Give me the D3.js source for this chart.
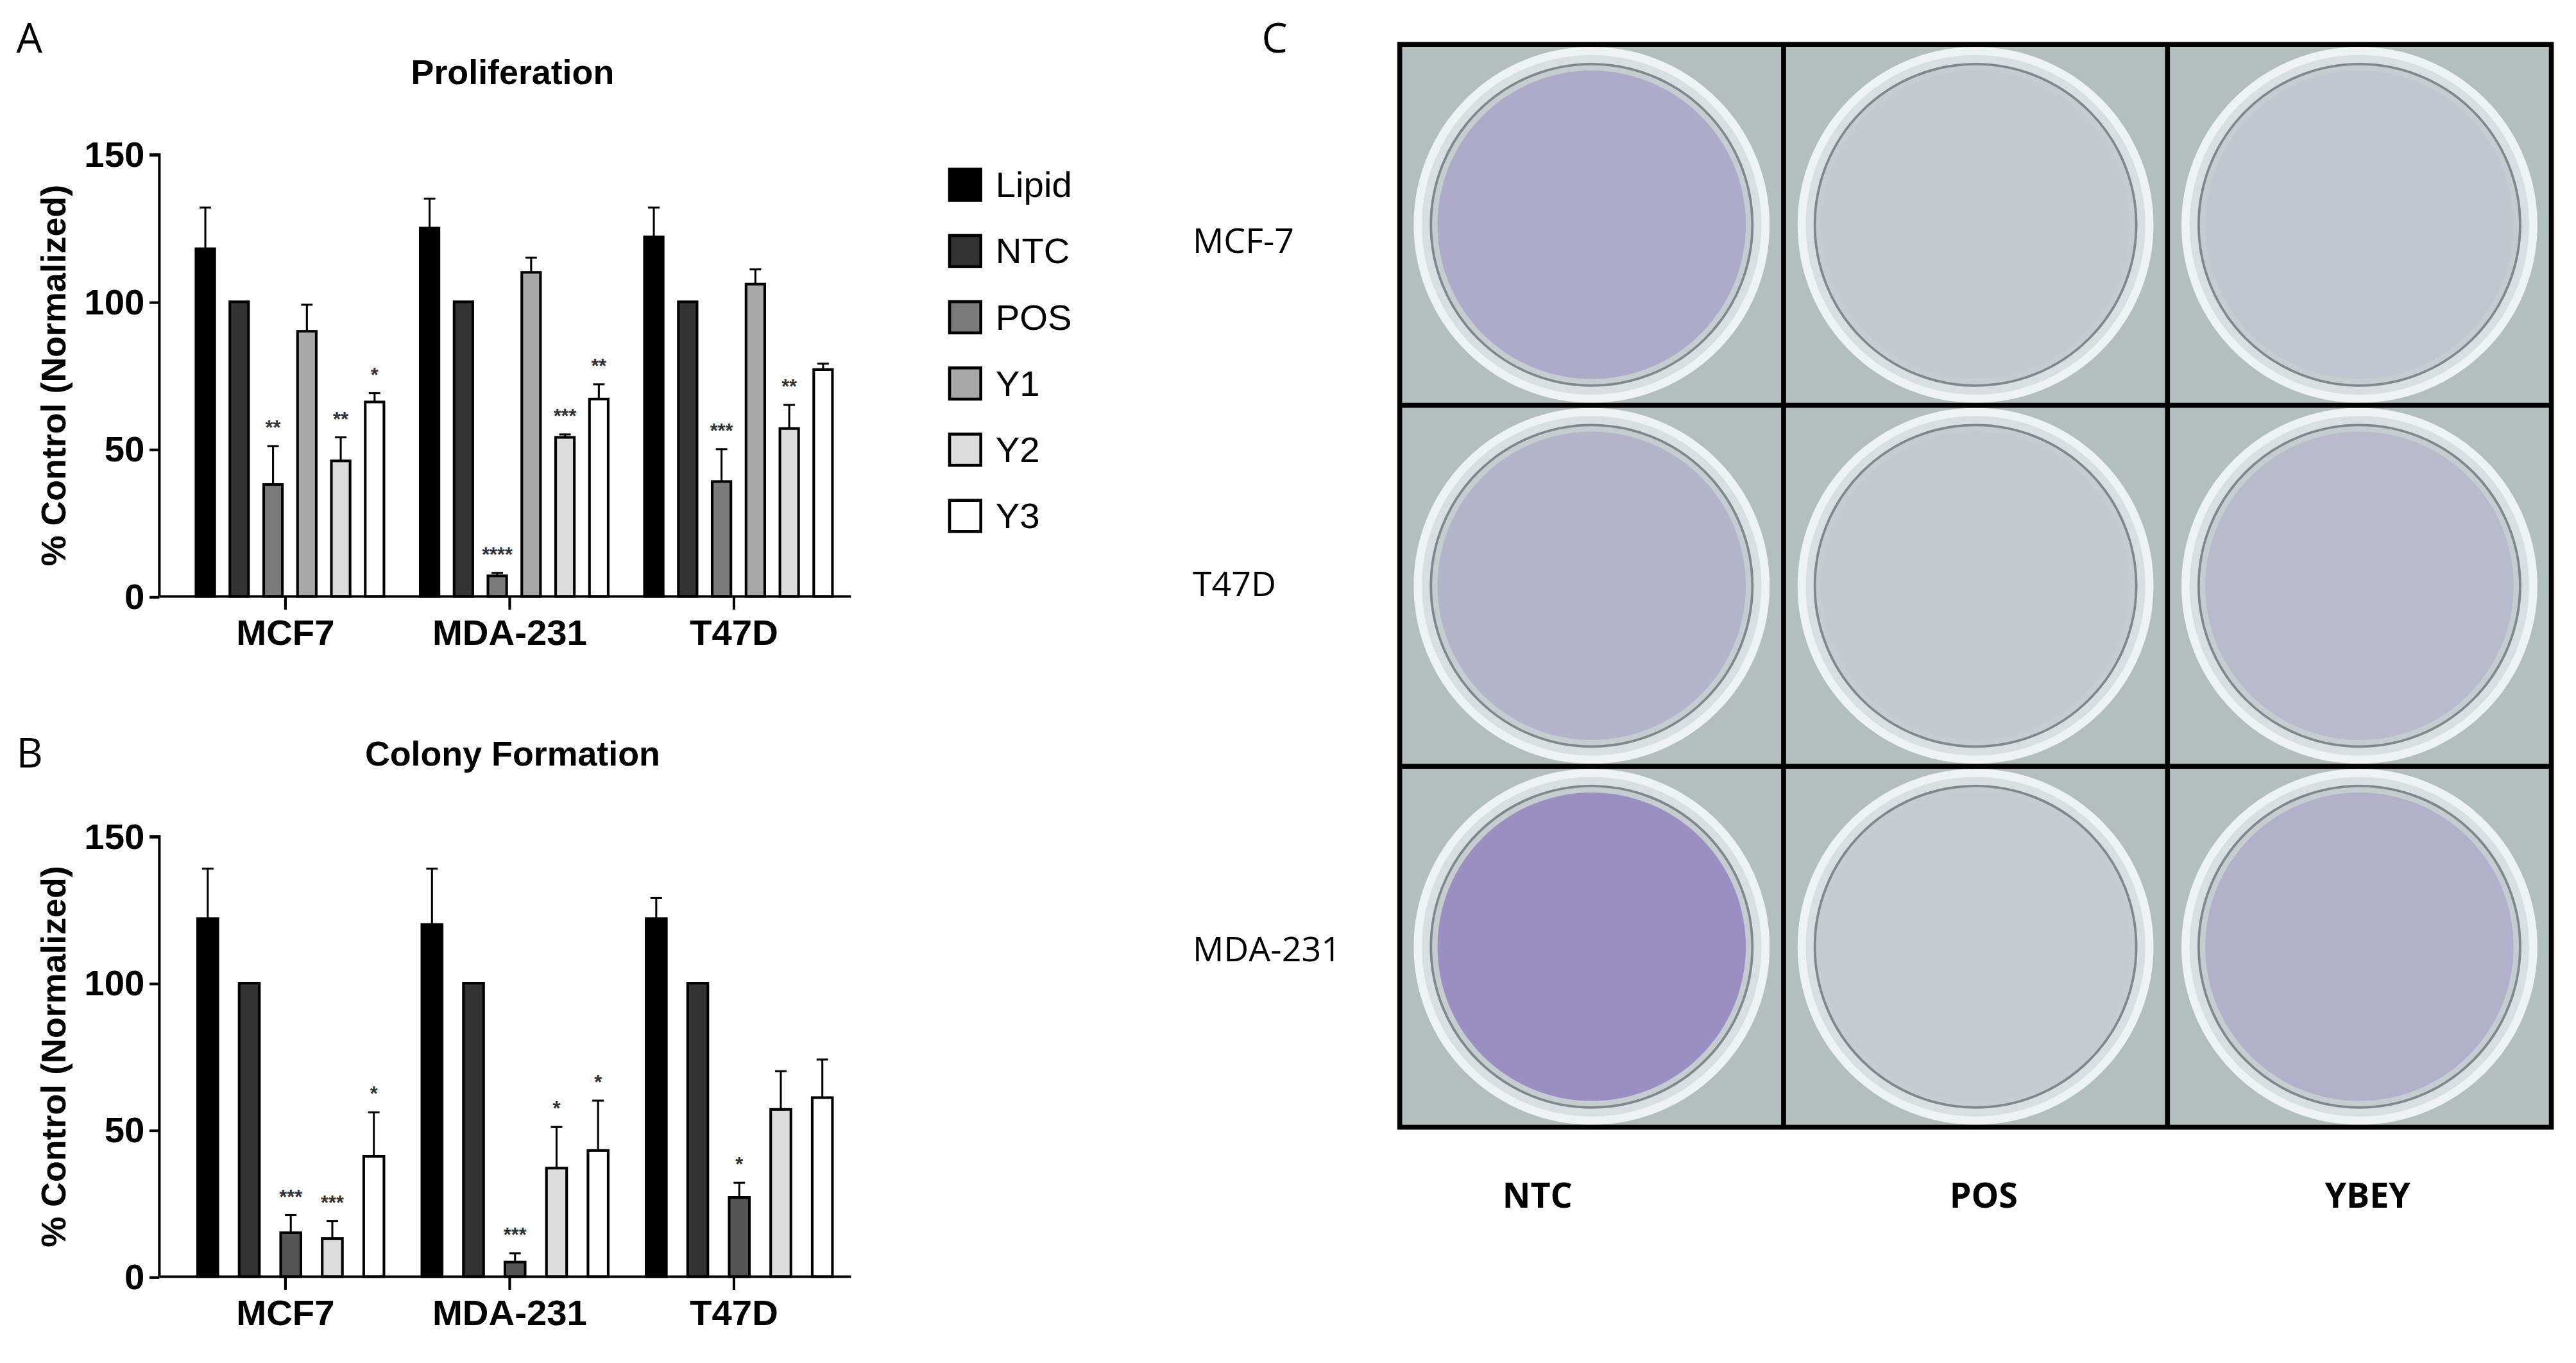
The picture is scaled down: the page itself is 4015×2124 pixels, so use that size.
<!DOCTYPE html>
<html><head><meta charset="utf-8">
<script src="https://cdn.jsdelivr.net/npm/d3@7"></script>
<style>html,body{margin:0;padding:0;background:#fff}</style>
</head><body>
<script>
// ---- data ----
const cellLines = ["MCF7", "MDA-231", "T47D"];
const seriesA = ["Lipid", "NTC", "POS", "Y1", "Y2", "Y3"];
const profMean = [[118,100,38,90,46,66],[125,100,7,110,54,67],[122,100,39,106,57,77]];
const profErr  = [[132,100,51,99,54,69],[135,100,8,115,55,72],[132,100,50,111,65,79]];
const profStars = [["","","**","","**","*"],["","","****","","***","**"],["","","***","","**",""]];
const seriesB = ["Lipid", "NTC", "POS", "Y2", "Y3"];
const colMean = [[122,100,15,13,41],[120,100,5,37,43],[122,100,27,57,61]];
const colErr  = [[139,100,21,19,56],[139,100,8,51,60],[129,100,32,70,74]];
const colStars = [["","","***","***","*"],["","","***","*","*"],["","","*","",""]];
const yTicks = [0, 50, 100, 150];
const fillsA = {Lipid:"#000", NTC:"#333", POS:"#7a7a7a", Y1:"#a8a8a8", Y2:"#dcdcdc", Y3:"#fff"};
const fillsB = {Lipid:"#000", NTC:"#333", POS:"#555", Y2:"#dcdcdc", Y3:"#fff"};
const plateRows = ["MCF-7", "T47D", "MDA-231"];
const plateCols = ["NTC", "POS", "YBEY"];
const colonyDensity = [[0.22,0.02,0.03],[0.16,0.02,0.12],[0.4,0.01,0.18]];

const W = 1568, H = 829.5;
const svg = d3.select("body").append("svg").attr("width",4015).attr("height",2124)
  .attr("viewBox",`0 0 ${W} ${H}`).style("font-family","'Liberation Sans', Arial, sans-serif");

function panel(cfg){
  const g = svg.append("g");
  const y = d3.scaleLinear().domain([0,150]).range([cfg.y0, cfg.y150]);
  const x0 = d3.scaleBand().domain(cellLines).range([105.5, 515]).padding(0);
  const x1 = d3.scaleBand().domain(cfg.series).range(cfg.inner).paddingInner(cfg.pin).paddingOuter(0);
  g.append("text").attr("x",312).attr("y",cfg.titleY).attr("text-anchor","middle")
    .attr("font-weight","bold").attr("font-size",21).text(cfg.title);
  g.append("text").attr("x",10).attr("y",cfg.letterY).attr("font-size",25)
    .attr("font-family","'Open Sans', sans-serif").text(cfg.letter);
  cellLines.forEach((c,gi)=>{
    cfg.series.forEach((s,si)=>{
      const bx = x0(c)+x1(s), bw = x1.bandwidth(), v = cfg.mean[gi][si], e = cfg.err[gi][si];
      const cx = bx+bw/2;
      if(e>v){
        g.append("line").attr("x1",cx).attr("x2",cx).attr("y1",y(v)).attr("y2",y(e)).attr("stroke","#000").attr("stroke-width",1.2);
        g.append("line").attr("x1",cx-3.5).attr("x2",cx+3.5).attr("y1",y(e)).attr("y2",y(e)).attr("stroke","#000").attr("stroke-width",1.2);
      }
      g.append("rect").attr("x",bx+0.8).attr("width",bw-1.6).attr("y",y(v)).attr("height",y(0)-y(v))
        .attr("fill",cfg.fills[s]).attr("stroke","#000").attr("stroke-width",1.6);
      const st = cfg.stars[gi][si];
      if(st) g.append("text").attr("x",cx).attr("y",y(Math.max(v,e))-7).attr("text-anchor","middle")
        .attr("font-size",12).attr("font-weight","bold").attr("fill","#333").text(st);
    });
  });
  const ya = g.append("g").attr("transform","translate(97,0)").call(d3.axisLeft(y).tickValues(yTicks).tickSize(6).tickPadding(3));
  ya.select(".domain").attr("stroke-width",1.6).attr("d",`M-6,${y(150)}H0V${y(0)}`);
  ya.selectAll(".tick line").attr("stroke-width",1.6);
  ya.selectAll("text").attr("font-size",22).attr("font-weight","bold").attr("fill","#000");
  const xa = g.append("g").attr("transform",`translate(0,${cfg.y0})`).call(d3.axisBottom(x0).tickSize(8).tickPadding(6));
  xa.select(".domain").attr("stroke-width",1.6).attr("d",`M97,0H518`);
  xa.selectAll(".tick line").attr("stroke-width",1.6);
  xa.selectAll("text").attr("font-size",22).attr("font-weight","bold").attr("fill","#000");
  g.append("text").attr("transform",`translate(40,${(cfg.y0+cfg.y150)/2}) rotate(-90)`).attr("text-anchor","middle")
    .attr("font-size",21).attr("font-weight","bold").text("% Control (Normalized)");
}
panel({title:"Proliferation",letter:"A",letterY:32,titleY:51,y0:363,y150:94,series:seriesA,mean:profMean,err:profErr,stars:profStars,fills:fillsA,inner:[13,129],pin:0.37});
panel({title:"Colony Formation",letter:"B",letterY:467,titleY:466,y0:777,y150:509,series:seriesB,mean:colMean,err:colErr,stars:colStars,fills:fillsB,inner:[14,129],pin:0.45});

const lg = svg.append("g");
seriesA.forEach((s,i)=>{
  const yy = 103 + i*40.3;
  lg.append("rect").attr("x",578).attr("y",yy).attr("width",19).attr("height",19).attr("fill",fillsA[s]).attr("stroke","#000").attr("stroke-width",1.8);
  lg.append("text").attr("x",606).attr("y",yy+17).attr("font-size",22).text(s);
});

const c = svg.append("g");
c.append("text").attr("x",768).attr("y",32).attr("font-size",25).attr("font-family","'Open Sans', sans-serif").text("C");
const gx = d3.scaleBand().domain(plateCols).range([852,1553]);
const gy = d3.scaleBand().domain(plateRows).range([27,686]);
plateRows.forEach((r,ri)=>{
  plateCols.forEach((col,ci)=>{
    const x = gx(col), yy = gy(r), w = gx.bandwidth(), h = gy.bandwidth();
    c.append("rect").attr("x",x).attr("y",yy).attr("width",w).attr("height",h).attr("fill","#b3bfbe");
    const cx = x+w/2, cy = yy+h/2, rad = Math.min(w,h)/2-4;
    c.append("circle").attr("cx",cx).attr("cy",cy).attr("r",rad).attr("fill","#d9dfe0").attr("stroke","#eef2f3").attr("stroke-width",5);
    c.append("circle").attr("cx",cx).attr("cy",cy).attr("r",rad-8).attr("fill","#c6cdd0").attr("stroke","#7f898c").attr("stroke-width",1.5);
    c.append("circle").attr("cx",cx).attr("cy",cy).attr("r",rad-12).attr("fill","#5a2fb0").attr("opacity",colonyDensity[ri][ci]);
  });
});
[1,2].forEach(i=>{
  c.append("line").attr("x1",852+i*gx.bandwidth()).attr("x2",852+i*gx.bandwidth()).attr("y1",27).attr("y2",686).attr("stroke","#000").attr("stroke-width",3);
  c.append("line").attr("y1",27+i*gy.bandwidth()).attr("y2",27+i*gy.bandwidth()).attr("x1",852).attr("x2",1553).attr("stroke","#000").attr("stroke-width",3);
});
c.append("rect").attr("x",852).attr("y",27).attr("width",701).attr("height",659).attr("fill","none").attr("stroke","#000").attr("stroke-width",3);
plateRows.forEach((r,i)=>c.append("text").attr("x",726).attr("y",[154,363,585][i]).attr("font-size",21).attr("font-family","'Open Sans', sans-serif").text(r));
const colLabelShift = [-33, 5, 5];
plateCols.forEach((col,i)=>c.append("text").attr("x",gx(col)+gx.bandwidth()/2+colLabelShift[i]).attr("y",735).attr("text-anchor","middle")
  .attr("font-size",21).attr("font-weight","bold").attr("font-family","'Open Sans', sans-serif").text(col));
</script>
</body></html>
